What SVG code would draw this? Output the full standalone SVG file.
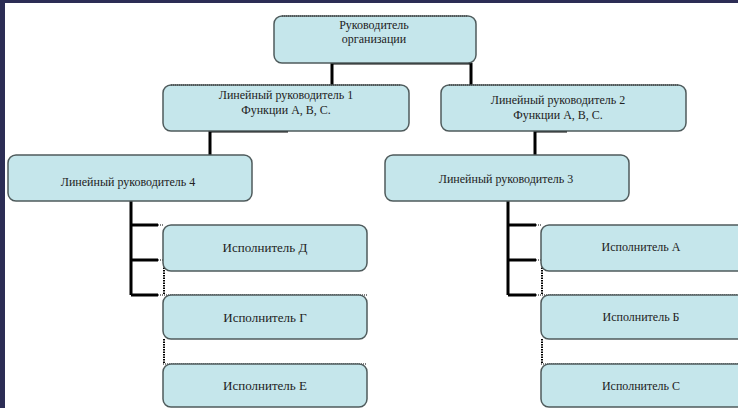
<svg xmlns="http://www.w3.org/2000/svg" width="738" height="408" viewBox="0 0 738 408">
<style>
.box{fill:#c5e6eb;stroke:#4f5b5c;stroke-width:1.5}
.top{stroke:#333;stroke-width:1.2;stroke-dasharray:1 1;fill:none}
text{font-family:'Liberation Serif','Times New Roman',serif;font-size:12px;fill:#222;text-anchor:middle}
.e{font-size:13px}
.c{stroke:#000;stroke-width:3;fill:none}
.d{stroke:#000;stroke-width:1.2;stroke-dasharray:1 1;fill:none}
.d2{stroke:#000;stroke-width:2;stroke-dasharray:1.5 1;fill:none}
</style>
<rect x="0" y="0" width="738" height="408" fill="#ffffff"/>
<rect x="0" y="0" width="738" height="3" fill="#2c2d55"/>
<rect x="0" y="0" width="5" height="408" fill="#2c2d55"/>
<g id="connectors">
<path class="c" d="M332 63 H471 M332 63 V86 M471 63 V86"/>
<path class="c" d="M288 131 H210 V156"/>
<path class="c" d="M567 131 H535 V156"/>
<path class="c" d="M131 201 V295 M131 225 H158 M131 260 H158 M131 295 H158"/>
<path class="d" d="M158 225 H164 M158 260 H164 M158 295 H367"/>
<path class="d2" d="M164 260 V295 M164 339 V364"/>
<path class="d" d="M163 364 H367"/>
<path class="c" d="M508 201 V295 M508 225 H536 M508 260 H536 M508 295 H536"/>
<path class="d" d="M536 225 H542 M536 260 H542 M536 295 H738"/>
<path class="d2" d="M542 260 V295 M542 339 V364"/>
<path class="d" d="M541 364 H738"/>
</g>
<g id="n0"><rect class="box" x="274" y="16" width="202" height="47" rx="8"/><path class="top" d="M282 16 H468"/><text x="374" y="29">Руководитель</text><text x="374" y="43">организации</text></g>
<g id="n1"><rect class="box" x="163" y="85" width="246" height="46" rx="8"/><path class="top" d="M171 85 H401"/><text x="286" y="99">Линейный руководитель 1</text><text x="286" y="114">Функции А, В, С.</text></g>
<g id="n2"><rect class="box" x="441" y="85" width="245" height="46" rx="8"/><path class="top" d="M449 85 H678"/><text x="558" y="104">Линейный руководитель 2</text><text x="558" y="119">Функции А, В, С.</text></g>
<g id="n4"><rect class="box" x="8" y="155" width="244" height="46" rx="8"/><text x="128" y="186">Линейный руководитель 4</text></g>
<g id="n3"><rect class="box" x="385" y="155" width="244" height="46" rx="8"/><text x="506" y="183">Линейный руководитель 3</text></g>
<g id="nD"><rect class="box" x="163" y="225" width="204" height="46" rx="8"/><text class="e" x="265" y="252">Исполнитель Д</text></g>
<g id="nG"><rect class="box" x="163" y="295" width="204" height="44" rx="8"/><text class="e" x="265" y="322">Исполнитель Г</text></g>
<g id="nE"><rect class="box" x="163" y="364" width="204" height="43" rx="8"/><text class="e" x="265" y="390">Исполнитель Е</text></g>
<g id="nA"><rect class="box" x="541" y="225" width="210" height="46" rx="8"/><text x="641" y="251">Исполнитель А</text></g>
<g id="nB"><rect class="box" x="541" y="295" width="210" height="44" rx="8"/><text x="641" y="321">Исполнитель Б</text></g>
<g id="nC"><rect class="box" x="541" y="364" width="210" height="43" rx="8"/><text x="641" y="390">Исполнитель С</text></g>
</svg>
